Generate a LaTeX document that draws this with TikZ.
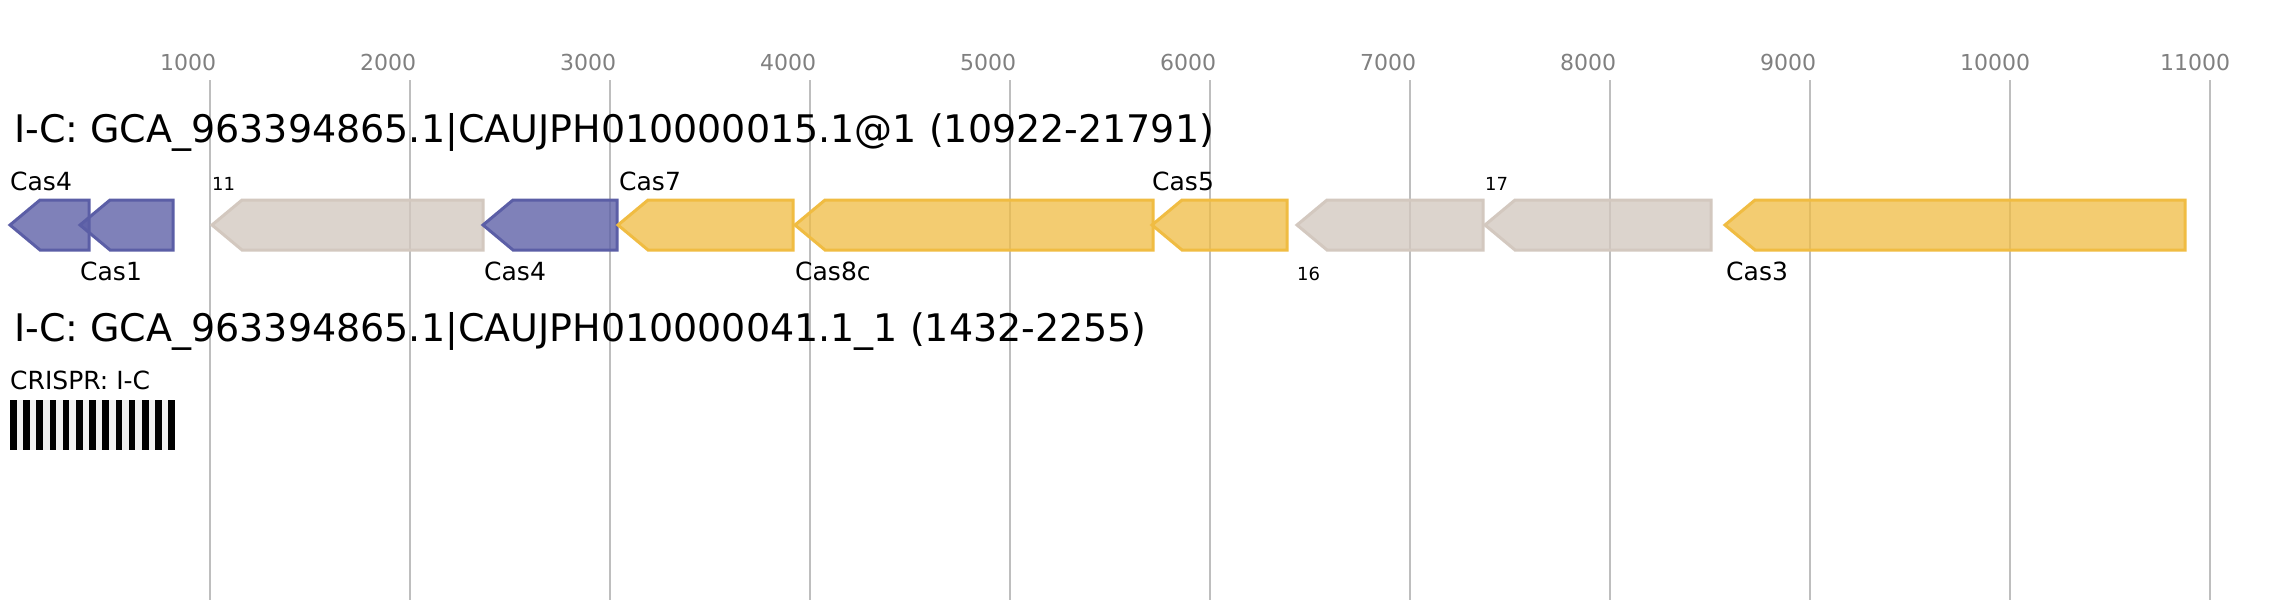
\documentclass[tikz,border=0pt]{standalone}
\usepackage{fontspec}
\setmainfont{DejaVu Sans}
\definecolor{gridc}{RGB}{190,190,190}
\definecolor{axisc}{RGB}{128,128,128}
\definecolor{bluec}{RGB}{91,94,166}
\definecolor{grayc}{RGB}{211,200,191}
\definecolor{yelc}{RGB}{240,188,66}
\definecolor{crbg}{RGB}{240,240,240}
\newcommand{\genearrow}[3]{%
  \path[#3] (#1,225) -- (#1+30,200) -- (#2,200) -- (#2,250) -- (#1+30,250) -- cycle;}
\tikzset{
  gridline/.style={draw=gridc, line width=2pt},
  axislabel/.style={anchor=base west, inner sep=0pt, text=axisc, font=\fontsize{22}{26}\selectfont},
  titlelabel/.style={anchor=base west, inner sep=0pt, font=\fontsize{38}{44}\selectfont},
  genelabel/.style={anchor=base west, inner sep=0pt, font=\fontsize{25}{30}\selectfont},
  smalllabel/.style={anchor=base west, inner sep=0pt, font=\fontsize{18}{22}\selectfont},
  bluegene/.style={draw=bluec, fill=bluec, fill opacity=0.78, line width=3pt, line join=miter},
  graygene/.style={draw=grayc, fill=grayc, fill opacity=0.78, line width=3pt, line join=miter},
  yelgene/.style={draw=yelc, fill=yelc, fill opacity=0.75, line width=3pt, line join=miter},
  crbar/.style={fill=black},
}
\begin{document}
\begin{tikzpicture}[x=1pt,y=-1pt]
\useasboundingbox (0,0) rectangle (2274,600);
\fill[white] (0,0) rectangle (2274,600);
% grid
\foreach \k in {1,...,11} {
  \pgfmathtruncatemacro{\xx}{10+200*\k}
  \pgfmathtruncatemacro{\lab}{1000*\k}
  \draw[gridline] (\xx,80) -- (\xx,600);
  \node[axislabel] (ax\k) at (\xx-50,70) {\lab};
}
% titles
\node[titlelabel] (t1) at (14,142) {I-C: GCA\_963394865.1|CAUJPH010000015.1@1 (10922-21791)};
\node[titlelabel] (t2) at (14,341) {I-C: GCA\_963394865.1|CAUJPH010000041.1\_1 (1432-2255)};
% genes
\genearrow{10}{89}{bluegene}
\genearrow{80}{173}{bluegene}
\genearrow{212}{483}{graygene}
\genearrow{483}{617}{bluegene}
\genearrow{618}{793}{yelgene}
\genearrow{795}{1153}{yelgene}
\genearrow{1152}{1287}{yelgene}
\genearrow{1297}{1483}{graygene}
\genearrow{1485}{1711}{graygene}
\genearrow{1725}{2185}{yelgene}
% gene labels
\node[genelabel] (l1) at (10,190) {Cas4};
\node[genelabel] (l2) at (80,280) {Cas1};
\node[smalllabel] (l3) at (212,190) {11};
\node[genelabel] (l4) at (484,280) {Cas4};
\node[genelabel] (l5) at (619,190) {Cas7};
\node[genelabel] (l6) at (795,280) {Cas8c};
\node[genelabel] (l7) at (1152,190) {Cas5};
\node[smalllabel] (l8) at (1297,280) {16};
\node[smalllabel] (l9) at (1485,190) {17};
\node[genelabel] (l10) at (1726,280) {Cas3};
% CRISPR array
\node[genelabel] (cr) at (10,389) {CRISPR: I-C};
\fill[crbg] (10,400) rectangle (175,450);
\foreach \i in {0,...,12} {
  \fill[crbar] (10+13.2*\i,400) rectangle (16.5+13.2*\i,450);
}
\end{tikzpicture}
\end{document}
